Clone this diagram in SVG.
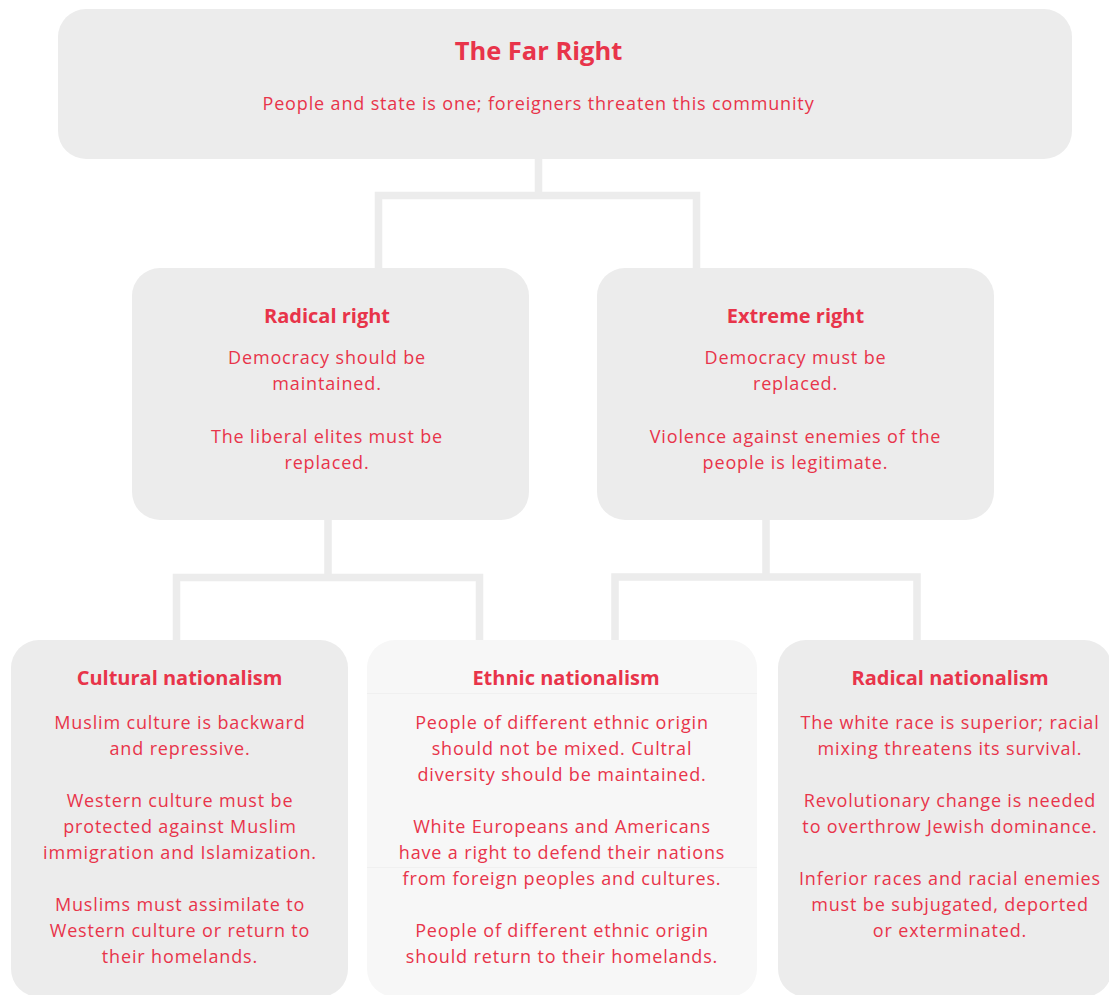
<svg xmlns="http://www.w3.org/2000/svg" width="1109" height="995" viewBox="0 0 1109 995">
<style>
.box{fill:#ececec}
.box2{fill:#f7f7f7}
.conn{fill:none;stroke:#ececec;stroke-width:7.5;stroke-linejoin:miter;stroke-linecap:butt}
text{font-family:"Open Sans","Liberation Sans",sans-serif;fill:#e8344a;text-anchor:middle}
.t0{font-size:25.5px;font-weight:700}
.t1{font-size:20px;font-weight:700}
.b{font-size:18px;letter-spacing:0.85px}
</style>
<rect width="1109" height="995" fill="#ffffff"/>
<g id="connectors">
<path class="conn" d="M538.5,159 V195.5 H378.5 V268 M538.5,195.5 H696.5 V268"/>
<path class="conn" d="M328,520 V577.5 H176.5 V640 M328,577.5 H479.5 V640"/>
<path class="conn" d="M766,520 V577 H615 V640 M766,577 H917 V640"/>
</g>
<g id="far-right">
<rect class="box" x="58" y="9" width="1014" height="150" rx="28"/>
<text class="t0" x="538.5" y="59.5">The Far Right</text>
<text class="b" x="538.5" y="110">People and state is one; foreigners threaten this community</text>
</g>
<g id="radical-right">
<rect class="box" x="132" y="268" width="397" height="252" rx="28"/>
<text class="t1" x="327" y="322.5">Radical right</text>
<text class="b" x="327" y="364.3">Democracy should be</text>
<text class="b" x="327" y="390.3">maintained.</text>
<text class="b" x="327" y="442.5">The liberal elites must be</text>
<text class="b" x="327" y="468.5">replaced.</text>
</g>
<g id="extreme-right">
<rect class="box" x="597" y="268" width="397" height="252" rx="28"/>
<text class="t1" x="795.5" y="322.5">Extreme right</text>
<text class="b" x="795.5" y="364.3">Democracy must be</text>
<text class="b" x="795.5" y="390.3">replaced.</text>
<text class="b" x="795.5" y="442.5">Violence against enemies of the</text>
<text class="b" x="795.5" y="468.5">people is legitimate.</text>
</g>
<g id="cultural-nationalism">
<rect class="box" x="11" y="640" width="337" height="357" rx="28"/>
<text class="t1" x="179.5" y="685">Cultural nationalism</text>
<text class="b" x="180" y="729">Muslim culture is backward</text>
<text class="b" x="180" y="755">and repressive.</text>
<text class="b" x="180" y="807">Western culture must be</text>
<text class="b" x="180" y="833">protected against Muslim</text>
<text class="b" x="180" y="859">immigration and Islamization.</text>
<text class="b" x="180" y="911">Muslims must assimilate to</text>
<text class="b" x="180" y="937">Western culture or return to</text>
<text class="b" x="180" y="963">their homelands.</text>
</g>
<g id="ethnic-nationalism">
<rect class="box2" x="367" y="640" width="390" height="357" rx="28"/>
<line x1="367" y1="693.5" x2="757" y2="693.5" stroke="#f0f0f0" stroke-width="1"/>
<line x1="367" y1="867.5" x2="757" y2="867.5" stroke="#f0f0f0" stroke-width="1"/>
<text class="t1" x="566" y="685">Ethnic nationalism</text>
<text class="b" x="562" y="729">People of different ethnic origin</text>
<text class="b" x="562" y="755">should not be mixed. Cultral</text>
<text class="b" x="562" y="781">diversity should be maintained.</text>
<text class="b" x="562" y="833">White Europeans and Americans</text>
<text class="b" x="562" y="859">have a right to defend their nations</text>
<text class="b" x="562" y="885">from foreign peoples and cultures.</text>
<text class="b" x="562" y="937">People of different ethnic origin</text>
<text class="b" x="562" y="963">should return to their homelands.</text>
</g>
<g id="radical-nationalism">
<rect class="box" x="778" y="640" width="334" height="357" rx="28"/>
<text class="t1" x="950" y="685">Radical nationalism</text>
<text class="b" x="950" y="729">The white race is superior; racial</text>
<text class="b" x="950" y="755">mixing threatens its survival.</text>
<text class="b" x="950" y="807">Revolutionary change is needed</text>
<text class="b" x="950" y="833">to overthrow Jewish dominance.</text>
<text class="b" x="950" y="885">Inferior races and racial enemies</text>
<text class="b" x="950" y="911">must be subjugated, deported</text>
<text class="b" x="950" y="937">or exterminated.</text>
</g>
</svg>
